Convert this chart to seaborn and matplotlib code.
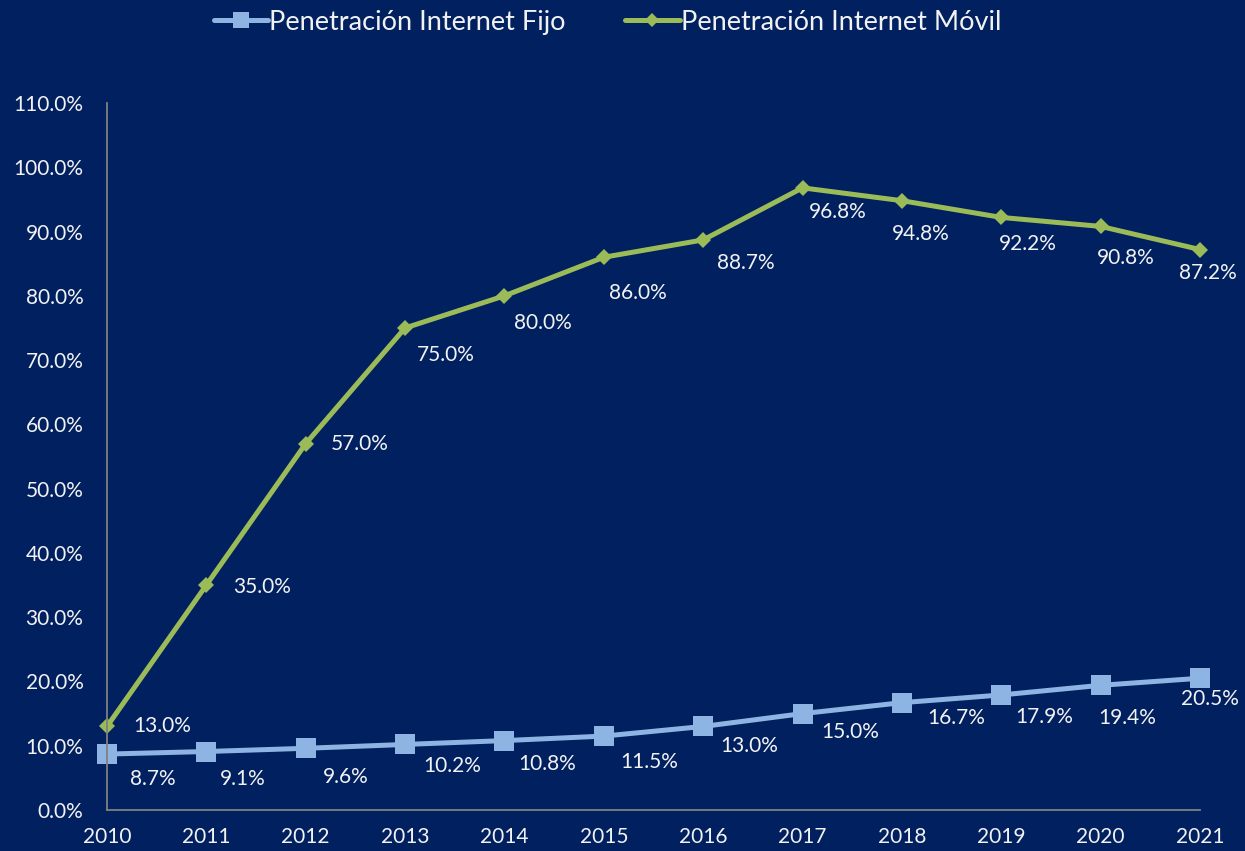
import matplotlib

matplotlib.use("Agg")
import matplotlib.pyplot as plt
import pandas as pd
import seaborn as sns
from matplotlib.lines import Line2D

years = [2010, 2011, 2012, 2013, 2014, 2015, 2016, 2017, 2018, 2019, 2020, 2021]
fijo = [8.7, 9.1, 9.6, 10.2, 10.8, 11.5, 13.0, 15.0, 16.7, 17.9, 19.4, 20.5]
movil = [13.0, 35.0, 57.0, 75.0, 80.0, 86.0, 88.7, 96.8, 94.8, 92.2, 90.8, 87.2]
series_names = ["Penetración Internet Fijo", "Penetración Internet Móvil"]
y_ticks = [0, 10, 20, 30, 40, 50, 60, 70, 80, 90, 100, 110]

# label offsets in pixels (dx right, dy down)
fijo_off = [(46, 25), (36, 27), (40, 29), (47, 22), (43, 23), (45, 26),
            (46, 20), (48, 18), (54, 15), (43, 22), (27, 33), (10, 21)]
movil_off = [(55, 0), (56, 2), (54, 0), (41, 27), (38, 27), (34, 36),
             (43, 23), (35, 24), (19, 33), (27, 27), (25, 32), (8, 23)]

BG = "#002060"
FG = "#F2F2F2"
C_FIJO = "#8EB4E3"
C_MOVIL = "#9BBB59"

sns.set_theme(style="white")
plt.rcParams["font.family"] = ["Lato", "DejaVu Sans"]

df = pd.DataFrame({"year": years, "fijo": fijo, "movil": movil})

fig = plt.figure(figsize=(12.45, 8.51), dpi=100, facecolor=BG)
ax = fig.add_axes([107 / 1245, 41 / 851, 1093 / 1245, 707 / 851])
ax.set_facecolor(BG)

sns.lineplot(ax=ax, data=df, x="year", y="fijo", color=C_FIJO, linewidth=3.6,
             marker="s", markersize=14, markeredgewidth=0, clip_on=False)
sns.lineplot(ax=ax, data=df, x="year", y="movil", color=C_MOVIL, linewidth=3.6,
             marker="D", markersize=8.5, markeredgewidth=0, clip_on=False)

for vals, offs in ((fijo, fijo_off), (movil, movil_off)):
    for x, v, (dx, dy) in zip(years, vals, offs):
        ax.annotate(f"{v:.1f}%", (x, v), xytext=(dx, -dy), textcoords="offset pixels",
                    ha="center", va="center", color=FG, fontsize=15,
                    annotation_clip=False)

ax.set_xlim(2010, 2021)
ax.set_ylim(0, 110)
ax.set_xticks(years)
ax.set_xticklabels([str(y) for y in years])
ax.set_yticks(y_ticks)
ax.set_yticklabels([f"{t:.1f}%" for t in y_ticks])
ax.tick_params(axis="both", colors=FG, labelsize=15, length=0)
ax.tick_params(axis="y", pad=17)
ax.tick_params(axis="x", pad=12)
ax.set_xlabel("")
ax.set_ylabel("")
ax.grid(False)
for side in ("top", "right"):
    ax.spines[side].set_visible(False)
for side in ("left", "bottom"):
    ax.spines[side].set_color("#808080")
    ax.spines[side].set_linewidth(1.3)

handles = [
    Line2D([], [], color=C_FIJO, linewidth=3.6, marker="s", markersize=11, markeredgewidth=0),
    Line2D([], [], color=C_MOVIL, linewidth=3.6, marker="D", markersize=7, markeredgewidth=0),
]
leg = fig.legend(handles, series_names, loc="center", bbox_to_anchor=(0.488, 0.974),
                 ncol=2, frameon=False, fontsize=19.5, handlelength=2.0,
                 handletextpad=0.05, columnspacing=2.2, labelcolor=FG)

fig.savefig("out.png", dpi=100, facecolor=BG)
